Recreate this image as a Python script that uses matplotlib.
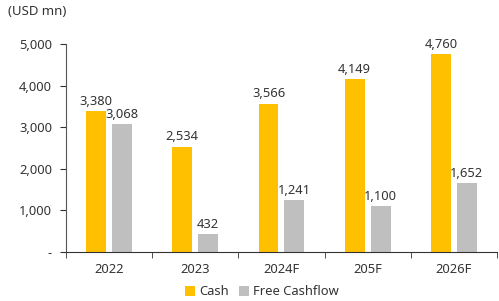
import matplotlib
matplotlib.use("Agg")
import matplotlib.pyplot as plt
import numpy as np

categories = ["2022", "2023", "2024F", "205F", "2026F"]
cash = [3380, 2534, 3566, 4149, 4760]
fcf = [3068, 432, 1241, 1100, 1652]
yticks = [0, 1000, 2000, 3000, 4000, 5000]
ytick_labels = ["-", "1,000", "2,000", "3,000", "4,000", "5,000"]

plt.rcParams['font.family'] = ['Noto Sans', 'DejaVu Sans']
fig = plt.figure(figsize=(4.99, 3.01), dpi=100)
ax = fig.add_axes([0.132, 0.163, 0.864, 0.691])

x = np.arange(len(categories))
w = 0.23
gap = 0.035
c_cash = "#FFC000"
c_fcf = "#BFBFBF"
b1 = ax.bar(x - w/2 - gap, cash, w, color=c_cash, label="Cash")
b2 = ax.bar(x + w/2 + gap, fcf, w, color=c_fcf, label="Free Cashflow")

for xi, v in zip(x - w/2 - gap, cash):
    ax.text(xi, v + 80, f"{v:,}", ha="center", va="bottom", fontsize=9.3, color="#333333")
for xi, v in zip(x + w/2 + gap, fcf):
    ax.text(xi, v + 80, f"{v:,}", ha="center", va="bottom", fontsize=9.3, color="#333333")

ax.set_xlim(-0.5, len(categories) - 0.5)
ax.set_ylim(0, 5000)
ax.set_yticks(yticks)
ax.set_yticklabels(ytick_labels, fontsize=9.3, color="#333333")
ax.set_xticks(x)
ax.set_xticklabels(categories, fontsize=9.3, color="#333333")
ax.tick_params(axis='x', length=0, pad=8)
ax.set_xticks(np.arange(-0.5, len(categories), 1.0), minor=True)
ax.tick_params(axis='x', which='minor', length=4, color="#333333", direction='out')
ax.tick_params(axis='y', length=4, color="#333333", direction='out', pad=6)

for s in ["top", "right"]:
    ax.spines[s].set_visible(False)
ax.spines["left"].set_color("#555555")
ax.spines["bottom"].set_color("#333333")

fig.text(0.016, 0.985, "(USD mn)", ha="left", va="top", fontsize=9.5, color="#333333")

leg = fig.legend(handles=[b1, b2], loc="lower center", bbox_to_anchor=(0.525, -0.03), ncol=2,
                 frameon=False, fontsize=9.3, handlelength=0.8, handleheight=0.8,
                 handletextpad=0.3, columnspacing=0.8)
for t in leg.get_texts():
    t.set_color("#333333")

fig.savefig("out.png", dpi=100)
